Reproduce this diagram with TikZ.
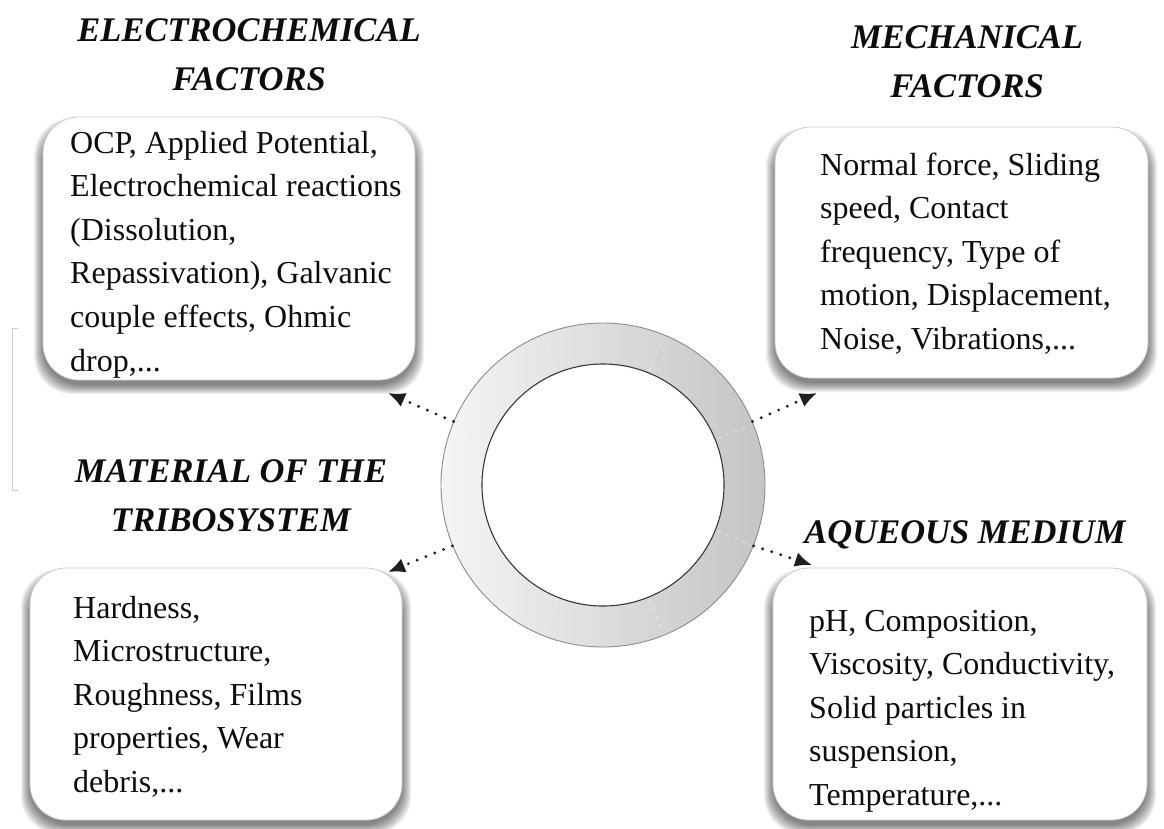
\documentclass[tikz,border=0pt]{standalone}
\usepackage{fontspec}
\setmainfont{Liberation Serif}
\usetikzlibrary{arrows.meta}
\newcommand\softshadow[4]{%
  \foreach \s in {0,...,9}{%
    \fill[black,opacity=0.06,rounded corners=38pt]
      ({#1-9+\s},{#2+1+\s}) rectangle ({#3+9-\s},{#4+14-\s});
  }%
}
\tikzset{
  box/.style={draw=black!20, line width=0.8pt, fill=white, rounded corners=36pt},
  ttl/.style={font=\fontsize{34.5}{49}\selectfont\bfseries\itshape, inner sep=0pt, anchor=base, text=black!95},
  bodytxt/.style={font=\fontsize{32}{43.6}\selectfont, inner sep=0pt, anchor=base west, text=black!95},
  dotarrow/.style={draw=black!88, line width=3.2pt, line cap=round, dash pattern=on 0pt off 9.5pt,
    -{Latex[length=17pt,width=15pt]}},
}
\begin{document}
\begin{tikzpicture}[x=1pt,y=-1pt]
\useasboundingbox (0,0) rectangle (1164,828);
\fill[white] (0,0) rectangle (1164,828);

% faint bracket remnant at left edge
\draw[black!20, line width=1pt] (18,328) -- (12,328) -- (12,490) -- (18,490);

% ring
\coordinate (c) at (603,485);
\shade[even odd rule, left color=black!4, right color=black!23]
  (c) circle[radius=162pt] (c) circle[radius=121pt];
\foreach \a in {22,68,112,158,202,248,292,338}
  \draw[white, opacity=0.45, line width=0.8pt, dash pattern=on 4pt off 5pt]
    (c) ++(\a:123pt) -- ++(\a:37pt);
\node[circle, minimum size=324pt, inner sep=0pt, draw=black!45, line width=0.9pt] (ring) at (c) {};
\node[circle, minimum size=242pt, inner sep=0pt, draw=black!78, line width=1.1pt, fill=white] (hole) at (c) {};

% shadows
\softshadow{43}{117}{415}{380}
\softshadow{775}{127}{1148}{378}
\softshadow{30}{568}{402}{820}
\softshadow{773}{568}{1147}{820}

% boxes
\node[box, minimum width=372pt, minimum height=263pt] (b1) at (229,248.5) {};
\node[box, minimum width=373pt, minimum height=251pt] (b2) at (961.5,252.5) {};
\node[box, minimum width=372pt, minimum height=252pt] (b3) at (216,694) {};
\node[box, minimum width=374pt, minimum height=252pt] (b4) at (960,694) {};

% titles
\node[ttl] (t1) at (249,41) {\begin{tabular}[t]{@{}c@{}}ELECTROCHEMICAL\\FACTORS\end{tabular}};
\node[ttl] (t2) at (967,48) {\begin{tabular}[t]{@{}c@{}}MECHANICAL\\FACTORS\end{tabular}};
\node[ttl] (t3) at (231,482) {\begin{tabular}[t]{@{}c@{}}MATERIAL OF THE\\TRIBOSYSTEM\end{tabular}};
\node[ttl] (t4) at (965,543) {AQUEOUS MEDIUM};

% body texts
\node[bodytxt] (x1) at (70,153) {\begin{tabular}[t]{@{}l@{}}OCP, Applied Potential,\\Electrochemical reactions\\(Dissolution,\\Repassivation), Galvanic\\couple effects, Ohmic\\drop,...\end{tabular}};
\node[bodytxt] (x2) at (820,175) {\begin{tabular}[t]{@{}l@{}}Normal force, Sliding\\speed, Contact\\frequency, Type of\\motion, Displacement,\\Noise, Vibrations,...\end{tabular}};
\node[bodytxt] (x3) at (73,618) {\begin{tabular}[t]{@{}l@{}}Hardness,\\Microstructure,\\Roughness, Films\\properties, Wear\\debris,...\end{tabular}};
\node[bodytxt] (x4) at (809,631) {\begin{tabular}[t]{@{}l@{}}pH, Composition,\\Viscosity, Conductivity,\\Solid particles in\\suspension,\\Temperature,...\end{tabular}};

% arrows
\coordinate (a1) at (388,393);
\coordinate (a2) at (817,393);
\coordinate (a3) at (388,572);
\coordinate (a4) at (812,565);
\draw[dotarrow] (ring.157) -- (a1);
\draw[dotarrow] (ring.23) -- (a2);
\draw[dotarrow] (ring.202) -- (a3);
\draw[dotarrow] (ring.338) -- (a4);
\end{tikzpicture}
\end{document}
